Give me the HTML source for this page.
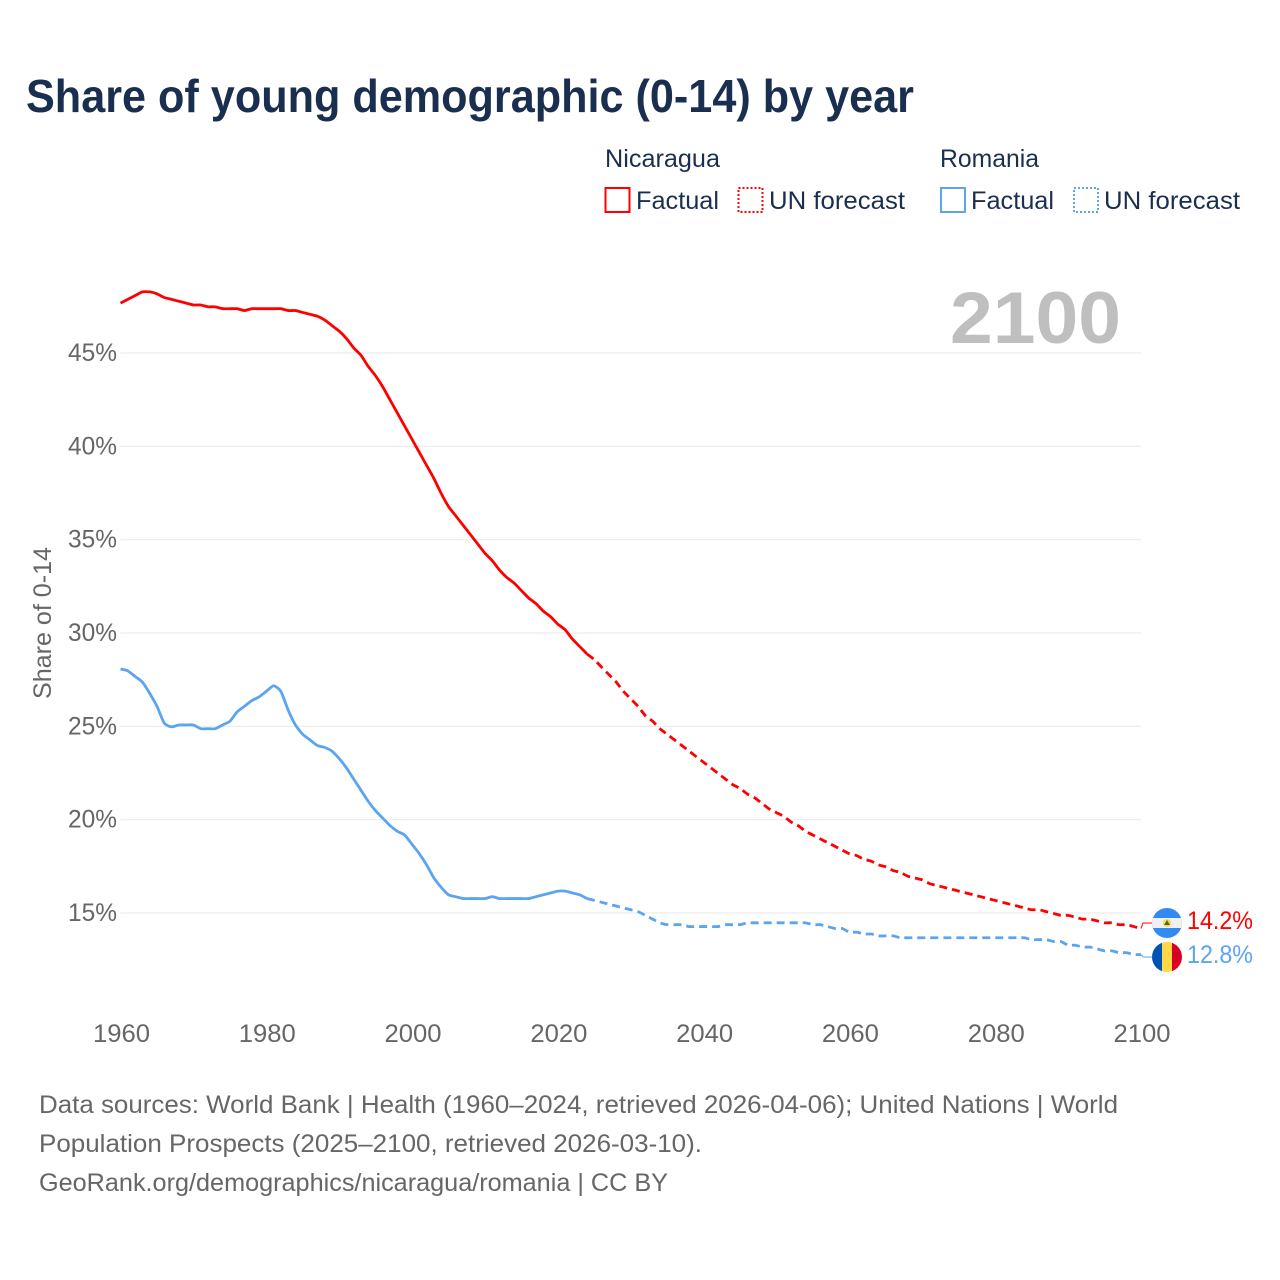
<!DOCTYPE html>
<html lang="en">
<head>
<meta charset="utf-8">
<title>Share of young demographic (0-14) by year</title>
<style>
html,body{margin:0;padding:0;background:#fff;}
svg{display:block;font-family:"Liberation Sans",Arial,sans-serif;}
</style>
</head>
<body>
<svg id="chart" width="1280" height="1280" viewBox="0 0 1280 1280" xmlns="http://www.w3.org/2000/svg">
  <rect width="1280" height="1280" fill="#ffffff"/>
  <text x="26" y="112" font-size="46" font-weight="700" fill="#1a2f4f" textLength="888" lengthAdjust="spacingAndGlyphs">Share of young demographic (0-14) by year</text>

  <text x="605" y="167" font-size="25" fill="#1a2f4f" textLength="115" lengthAdjust="spacingAndGlyphs">Nicaragua</text>
  <rect x="605.5" y="188" width="24" height="24" fill="none" stroke="#ff0000" stroke-width="2"/>
  <text x="636" y="209" font-size="25" fill="#1a2f4f" textLength="83" lengthAdjust="spacingAndGlyphs">Factual</text>
  <rect x="738.5" y="188" width="24" height="24" fill="none" stroke="#ff0000" stroke-width="2" stroke-dasharray="2 2"/>
  <text x="769" y="209" font-size="25" fill="#1a2f4f" textLength="136" lengthAdjust="spacingAndGlyphs">UN forecast</text>

  <text x="940" y="167" font-size="25" fill="#1a2f4f" textLength="99" lengthAdjust="spacingAndGlyphs">Romania</text>
  <rect x="941" y="188" width="24" height="24" fill="none" stroke="#5ba4ef" stroke-width="2"/>
  <text x="971" y="209" font-size="25" fill="#1a2f4f" textLength="83" lengthAdjust="spacingAndGlyphs">Factual</text>
  <rect x="1074" y="188" width="24" height="24" fill="none" stroke="#5ba4ef" stroke-width="2" stroke-dasharray="2 2"/>
  <text x="1104" y="209" font-size="25" fill="#1a2f4f" textLength="136" lengthAdjust="spacingAndGlyphs">UN forecast</text>

  <g id="grid"></g>
  <g id="yticks"></g>
  <g id="xticks"></g>

  <text transform="translate(51,623) rotate(-90)" text-anchor="middle" font-size="25" fill="#666666" textLength="152" lengthAdjust="spacingAndGlyphs">Share of 0-14</text>

  <text x="950" y="343" font-size="73" font-weight="700" fill="#bfbfbf" textLength="171" lengthAdjust="spacingAndGlyphs">2100</text>

  <g id="series"></g>

  <defs>
    <clipPath id="clip-ni"><circle cx="1167" cy="923" r="15"/></clipPath>
    <clipPath id="clip-ro"><circle cx="1167" cy="957" r="15"/></clipPath>
  </defs>
  <g clip-path="url(#clip-ni)">
    <rect x="1152" y="908" width="30" height="30" fill="#338af3"/>
    <rect x="1152" y="918" width="30" height="10" fill="#f0f0f0"/>
    <circle cx="1167" cy="923" r="4" fill="#ffda44"/>
    <path d="M1167 920 L1170 925 L1164 925 Z" fill="#496e2d"/>
  </g>
  <g clip-path="url(#clip-ro)">
    <rect x="1152" y="942" width="10" height="30" fill="#0052b4"/>
    <rect x="1162" y="942" width="10" height="30" fill="#ffda44"/>
    <rect x="1172" y="942" width="10" height="30" fill="#d80027"/>
  </g>
  <text x="1187" y="929" font-size="25" fill="#ff0000" textLength="66" lengthAdjust="spacingAndGlyphs">14.2%</text>
  <text x="1187" y="963" font-size="25" fill="#5ba4ef" textLength="66" lengthAdjust="spacingAndGlyphs">12.8%</text>

  <g font-size="25" fill="#666666">
    <text x="39" y="1113" textLength="1079" lengthAdjust="spacingAndGlyphs">Data sources: World Bank | Health (1960–2024, retrieved 2026-04-06); United Nations | World</text>
    <text x="39" y="1152" textLength="663" lengthAdjust="spacingAndGlyphs">Population Prospects (2025–2100, retrieved 2026-03-10).</text>
    <text x="39" y="1191" textLength="629" lengthAdjust="spacingAndGlyphs">GeoRank.org/demographics/nicaragua/romania | CC BY</text>
  </g>
</svg>
<script>
const yTickValues = [15, 20, 25, 30, 35, 40, 45];
const xTickYears = [1960, 1980, 2000, 2020, 2040, 2060, 2080, 2100];
const firstYear = 1960;
const forecastFirstYear = 2025;
const nicaraguaFactual = [47.7,47.9,48.1,48.3,48.3,48.2,48.0,47.9,47.8,47.7,47.6,47.6,47.5,47.5,47.4,47.4,47.4,47.3,47.4,47.4,47.4,47.4,47.4,47.3,47.3,47.2,47.1,47.0,46.8,46.5,46.2,45.8,45.3,44.9,44.3,43.8,43.2,42.5,41.8,41.1,40.4,39.7,39.0,38.3,37.5,36.8,36.3,35.8,35.3,34.8,34.3,33.9,33.4,33.0,32.7,32.3,31.9,31.6,31.2,30.9,30.5,30.2,29.7,29.3,28.9];
const nicaraguaForecast = [28.6,28.2,27.8,27.4,26.9,26.5,26.1,25.6,25.3,24.9,24.6,24.3,24.0,23.7,23.4,23.1,22.8,22.5,22.2,21.9,21.7,21.4,21.2,20.9,20.6,20.4,20.2,19.9,19.7,19.4,19.2,19.0,18.8,18.6,18.4,18.2,18.1,17.9,17.8,17.6,17.5,17.3,17.2,17.0,16.9,16.8,16.6,16.5,16.4,16.3,16.2,16.1,16.0,15.9,15.8,15.7,15.6,15.5,15.4,15.3,15.2,15.2,15.1,15.0,14.9,14.9,14.8,14.7,14.7,14.6,14.5,14.5,14.4,14.4,14.3,14.2];
const romaniaFactual = [28.1,28.0,27.7,27.4,26.8,26.1,25.2,25.0,25.1,25.1,25.1,24.9,24.9,24.9,25.1,25.3,25.8,26.1,26.4,26.6,26.9,27.2,26.9,25.9,25.1,24.6,24.3,24.0,23.9,23.7,23.3,22.8,22.2,21.6,21.0,20.5,20.1,19.7,19.4,19.2,18.7,18.2,17.6,16.9,16.4,16.0,15.9,15.8,15.8,15.8,15.8,15.9,15.8,15.8,15.8,15.8,15.8,15.9,16.0,16.1,16.2,16.2,16.1,16.0,15.8];
const romaniaForecast = [15.7,15.6,15.5,15.4,15.3,15.2,15.1,14.9,14.7,14.5,14.4,14.4,14.4,14.3,14.3,14.3,14.3,14.3,14.4,14.4,14.4,14.5,14.5,14.5,14.5,14.5,14.5,14.5,14.5,14.5,14.4,14.4,14.3,14.2,14.2,14.0,14.0,13.9,13.9,13.8,13.8,13.8,13.7,13.7,13.7,13.7,13.7,13.7,13.7,13.7,13.7,13.7,13.7,13.7,13.7,13.7,13.7,13.7,13.7,13.7,13.6,13.6,13.6,13.5,13.5,13.3,13.3,13.2,13.2,13.1,13.0,13.0,12.9,12.9,12.8,12.8];
const nicaraguaEndValue = 14.2;
const romaniaEndValue = 12.8;

const NS = 'http://www.w3.org/2000/svg';
function xAxis(year) { return 120.5 + (year - 1960) * (1141 - 120.5) / 140; }
function yAxis(v) { return 913 - (v - 15) * (913 - 353) / 30; }
function markY(v) { return yAxis(v) + 0.5; }
function pathFor(values, startYear) {
  const pts = values.map(function (v, i) { return [xAxis(startYear + i), markY(v)]; });
  let d = 'M' + pts[0][0].toFixed(2) + ' ' + pts[0][1].toFixed(2);
  for (let i = 0; i < pts.length - 1; i++) {
    const p0 = pts[Math.max(i - 1, 0)];
    const p1 = pts[i];
    const p2 = pts[i + 1];
    const p3 = pts[Math.min(i + 2, pts.length - 1)];
    const c1x = p1[0] + (p2[0] - p0[0]) / 10;
    const c1y = p1[1] + (p2[1] - p0[1]) / 10;
    const c2x = p2[0] - (p3[0] - p1[0]) / 10;
    const c2y = p2[1] - (p3[1] - p1[1]) / 10;
    d += 'C' + c1x.toFixed(2) + ' ' + c1y.toFixed(2) + ' ' + c2x.toFixed(2) + ' ' + c2y.toFixed(2) + ' ' + p2[0].toFixed(2) + ' ' + p2[1].toFixed(2);
  }
  return d;
}

const gridG = document.getElementById('grid');
const yG = document.getElementById('yticks');
const xG = document.getElementById('xticks');
const seriesG = document.getElementById('series');

yTickValues.forEach(function (v) {
  const line = document.createElementNS(NS, 'line');
  
  
  line.setAttribute('x1', xAxis(1960));
  line.setAttribute('x2', xAxis(2100));
  line.setAttribute('y1', yAxis(v));
  line.setAttribute('y2', yAxis(v));
  line.setAttribute('stroke', '#ececec');
  line.setAttribute('stroke-width', '1.2');
  gridG.appendChild(line);

  const t = document.createElementNS(NS, 'text');
  
  
  t.setAttribute('x', 68);
  t.setAttribute('y', yAxis(v) + 8);
  t.setAttribute('font-size', '25');
  t.setAttribute('fill', '#666666');
  t.setAttribute('textLength', '49');
  t.setAttribute('lengthAdjust', 'spacingAndGlyphs');
  t.textContent = v + '%';
  yG.appendChild(t);
});

xTickYears.forEach(function (yr) {
  const t = document.createElementNS(NS, 'text');
  
  
  t.setAttribute('x', xAxis(yr) + 1 - 28.5);
  t.setAttribute('y', 1042);
  t.setAttribute('font-size', '25');
  t.setAttribute('fill', '#666666');
  t.setAttribute('textLength', '57');
  t.setAttribute('lengthAdjust', 'spacingAndGlyphs');
  t.textContent = yr;
  xG.appendChild(t);
});

function addConnector(endValue, flagY, color, name) {
  const p = document.createElementNS(NS, 'path');
  
  
  const ex = xAxis(2100);
  p.setAttribute('d', 'M' + ex + ' ' + markY(endValue) + 'L' + (ex + 2) + ' ' + flagY + 'L1152 ' + flagY);
  p.setAttribute('fill', 'none');
  p.setAttribute('stroke', color);
  p.setAttribute('stroke-width', '1');
  seriesG.appendChild(p);
}
addConnector(nicaraguaEndValue, 923, '#ff0000', 'connector-nicaragua');
addConnector(romaniaEndValue, 957, '#5ba4ef', 'connector-romania');

function addLine(d, color, dashed, name) {
  const p = document.createElementNS(NS, 'path');
  
  
  p.setAttribute('d', d);
  p.setAttribute('fill', 'none');
  p.setAttribute('stroke', color);
  p.setAttribute('stroke-width', '2.8');
  p.setAttribute('stroke-linejoin', 'round');
  if (dashed) { p.setAttribute('stroke-dasharray', '8 5'); }
  seriesG.appendChild(p);
}
addLine(pathFor(romaniaFactual, firstYear), '#5ba4ef', false, 'line-romania-factual');
addLine(pathFor(romaniaFactual.slice(-1).concat(romaniaForecast), forecastFirstYear - 1), '#5ba4ef', true, 'line-romania-forecast');
addLine(pathFor(nicaraguaFactual, firstYear), '#ff0000', false, 'line-nicaragua-factual');
addLine(pathFor(nicaraguaFactual.slice(-1).concat(nicaraguaForecast), forecastFirstYear - 1), '#ff0000', true, 'line-nicaragua-forecast');
</script>
</body>
</html>
